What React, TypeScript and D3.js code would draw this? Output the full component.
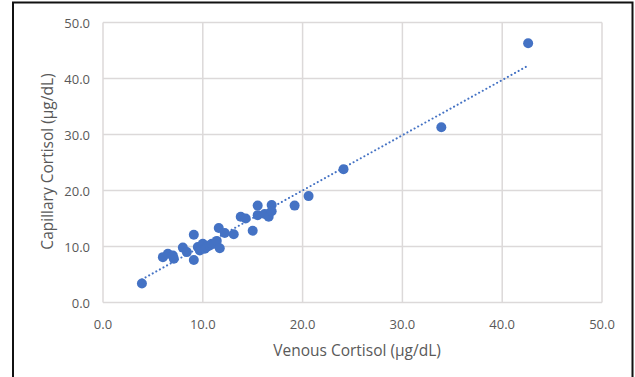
import { useRef, useEffect } from "react";
import * as d3 from "d3";

const venous = [3.9, 6.0, 6.5, 7.1, 7.0, 8.0, 8.4, 9.1, 9.1, 9.5, 9.7, 10.0, 10.2, 10.4, 10.7, 10.9, 11.2, 11.4, 11.7, 11.6, 12.2, 13.1, 13.8, 14.3, 15.0, 15.5, 15.5, 16.2, 16.6, 16.9, 16.9, 19.2, 20.6, 24.1, 33.9, 42.6];
const capillary = [3.4, 8.1, 8.7, 7.8, 8.4, 9.8, 9.0, 12.1, 7.6, 9.9, 9.3, 10.5, 9.6, 9.9, 10.2, 10.5, 10.5, 11.0, 9.7, 13.3, 12.4, 12.2, 15.3, 15.0, 12.8, 17.3, 15.6, 15.8, 15.3, 17.4, 16.3, 17.3, 19.0, 23.8, 31.3, 46.3];
const xTicks = [0, 10, 20, 30, 40, 50];
const yTicks = [0, 10, 20, 30, 40, 50];

const width = 635;
const height = 377;

export default function App() {
  const svgRef = useRef<SVGSVGElement>(null);

  useEffect(() => {
    const svg = d3.select(svgRef.current);
    svg.selectAll("*").remove();

    const margin = { top: 22.5, right: 33, bottom: 74.5, left: 103 };
    const x = d3.scaleLinear().domain([0, 50]).range([margin.left, width - margin.right]);
    const y = d3.scaleLinear().domain([0, 50]).range([height - margin.bottom, margin.top]);
    const font = "'Open Sans', sans-serif";
    const grid = "#dcd9d9";

    // outer frame
    svg.append("path")
      .attr("d", `M13,${height} V2.5 H632.5 V${height}`)
      .attr("fill", "none")
      .attr("stroke", "#111")
      .attr("stroke-width", 2);

    // grid
    svg.append("g")
      .selectAll("line")
      .data(yTicks)
      .join("line")
      .attr("x1", x(0))
      .attr("x2", x(50))
      .attr("y1", (d) => y(d))
      .attr("y2", (d) => y(d))
      .attr("stroke", grid)
      .attr("stroke-width", 1.5);

    svg.append("g")
      .selectAll("line")
      .data(xTicks)
      .join("line")
      .attr("x1", (d) => x(d))
      .attr("x2", (d) => x(d))
      .attr("y1", y(0))
      .attr("y2", y(50))
      .attr("stroke", grid)
      .attr("stroke-width", 1.5);

    // tick labels
    svg.append("g")
      .selectAll("text")
      .data(yTicks)
      .join("text")
      .attr("x", x(0) - 13)
      .attr("y", (d) => y(d) + 0.5)
      .attr("text-anchor", "end")
      .attr("dominant-baseline", "central")
      .attr("font-family", font)
      .attr("font-size", 13)
      .attr("fill", "#595959")
      .text((d) => d3.format(".1f")(d));

    svg.append("g")
      .selectAll("text")
      .data(xTicks)
      .join("text")
      .attr("x", (d) => x(d))
      .attr("y", y(0) + 21.5)
      .attr("text-anchor", "middle")
      .attr("dominant-baseline", "central")
      .attr("font-family", font)
      .attr("font-size", 13)
      .attr("fill", "#595959")
      .text((d) => d3.format(".1f")(d));

    // axis titles
    svg.append("text")
      .attr("x", 357)
      .attr("y", 350)
      .attr("text-anchor", "middle")
      .attr("dominant-baseline", "central")
      .attr("font-family", font)
      .attr("font-size", 15.5)
      .attr("fill", "#595959")
      .text("Venous Cortisol (µg/dL)");

    svg.append("text")
      .attr("transform", `translate(47,161.5) rotate(-90)`)
      .attr("text-anchor", "middle")
      .attr("dominant-baseline", "central")
      .attr("font-family", font)
      .attr("font-size", 15.5)
      .attr("fill", "#595959")
      .text("Capillary Cortisol (µg/dL)");

    // linear trendline
    const n = venous.length;
    const mx = d3.mean(venous)!;
    const my = d3.mean(capillary)!;
    const slope =
      d3.sum(venous, (v, i) => (v - mx) * (capillary[i] - my)) /
      d3.sum(venous, (v) => (v - mx) * (v - mx));
    const intercept = my - slope * mx;
    const [x0, x1] = d3.extent(venous) as [number, number];
    svg.append("line")
      .attr("x1", x(x0))
      .attr("y1", y(intercept + slope * x0))
      .attr("x2", x(x1))
      .attr("y2", y(intercept + slope * x1))
      .attr("stroke", "#4472c4")
      .attr("stroke-width", 2)
      .attr("stroke-linecap", "round")
      .attr("stroke-dasharray", "0.1,4");

    // points
    svg.append("g")
      .selectAll("circle")
      .data(d3.range(n))
      .join("circle")
      .attr("cx", (i) => x(venous[i]))
      .attr("cy", (i) => y(capillary[i]))
      .attr("r", 5)
      .attr("fill", "#4472c4");
  }, []);

  return (
    <svg
      ref={svgRef}
      width={width}
      height={height}
      style={{ position: "absolute", left: 0, top: 0, background: "#fff" }}
    ></svg>
  );
}
